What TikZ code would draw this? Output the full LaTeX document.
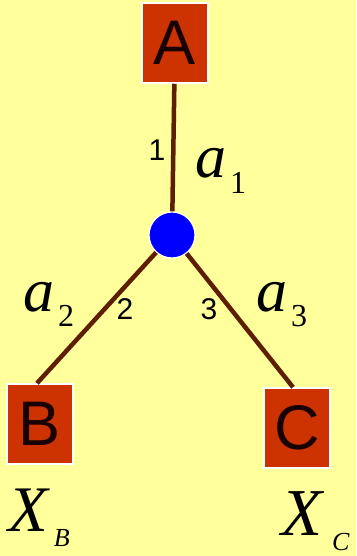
\documentclass[tikz,border=0pt]{standalone}
\usepackage{fontspec}
\setmainfont{Liberation Serif}
\newfontfamily\boxfont{Liberation Sans}
\usetikzlibrary{positioning, calc}
\definecolor{bgyellow}{HTML}{FFFF9C}
\definecolor{boxred}{HTML}{CC3300}
\definecolor{linkbrown}{HTML}{5E1F00}
\definecolor{hubblue}{HTML}{0000FF}
\newcommand{\varsub}[5]{{\fontsize{#3}{#3}\selectfont\itshape #1}\hspace{#5}\raisebox{-15pt}{\fontsize{#4}{#4}\selectfont #2}}
\tikzset{
  vbox/.style={draw=white, line width=1.5pt, fill=boxred, minimum width=66pt, minimum height=80pt, inner sep=0pt, font=\boxfont\fontsize{63}{63}\selectfont, text=black!90!red},
  vhub/.style={circle, draw=white, line width=1.2pt, fill=hubblue, minimum size=46pt, inner sep=0pt},
  vlink/.style={line width=4.5pt, linkbrown},
  vnum/.style={font=\boxfont\fontsize{30}{30}\selectfont, inner sep=0pt},
  vvar/.style={inner sep=0pt, anchor=base west},
}
\begin{document}
\begin{tikzpicture}[x=1pt, y=-1pt]
    \useasboundingbox (0,0) rectangle (356,556);
    \fill[bgyellow] (0,0) rectangle (356,556);
    \node[vbox] (A) at (175,43) {A};
    \node[vbox] (B) at (40,424) {B};
    \node[vbox] (C) at (297,428) {C};
    \node[vhub] (hub) at (172,235) {};
    \draw[vlink] (A) -- (hub);
    \draw[vlink] (hub) -- ([xshift=-3pt]B.north);
    \draw[vlink] (hub) -- ([xshift=-4pt]C.north);
    % port numbers
    \node[vnum] (n1) at (157,150) {1};
    \node[vnum] (n2) at (125,309) {2};
    \node[vnum] (n3) at (209,309) {3};
    % variables
    \node[vvar] (a1) at (195,178) {\varsub{a}{1}{62}{32}{4pt}};
    \node[vvar] (a2) at (23,311) {\varsub{a}{2}{62}{32}{4pt}};
    \node[vvar] (a3) at (256,311) {\varsub{a}{3}{62}{32}{4pt}};
    \node[vvar] (xb) at (8,531) {\varsub{X}{\itshape B}{65}{26}{6pt}};
    \node[vvar] (xc) at (281,535) {\varsub{X}{\itshape C}{67}{26}{10pt}};
\end{tikzpicture}
\end{document}
